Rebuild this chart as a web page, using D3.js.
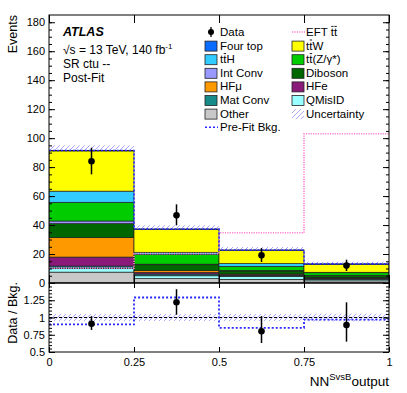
<!DOCTYPE html>
<html><head><meta charset="utf-8">
<script src="https://cdn.jsdelivr.net/npm/d3@7"></script>
<style>
body{margin:0;background:#fff;}
svg{font-family:"Liberation Sans",Arial,Helvetica,sans-serif;}
</style></head>
<body><svg id="c" width="407" height="393"></svg>
<script>
// ---- data ----
const binEdges = [0, 0.25, 0.5, 0.75, 1];
const other   = [7.5, 3.0, 2.5, 1.5];
const qmisid  = [2.4, 2.0, 2.0, 1.0];
const matConv = [1.8, 1.2, 0.8, 0.6];
const hfe     = [6.2, 1.1, 0.5, 0.4];
const hfmu    = [13.4, 1.2, 0.4, 0.2];
const diboson = [9.7, 4.1, 2.1, 1.4];
const intConv = [1.8, 0.4, 0.3, 0.2];
const ttZ     = [12.9, 6.8, 2.9, 1.8];
const ttH     = [7.7, 1.4, 1.9, 0.3];
const ttW     = [27.8, 15.8, 9.1, 5.5];
const fourTop = [0.3, 0.3, 0.3, 0.3];
const dataVals = [84, 46.7, 19.1, 12];
const dataLo   = [75, 39.8, 14.5, 8.3];
const dataHi   = [93.4, 54.3, 24.1, 16.1];
const eftVals  = [10.3, 20.3, 34.7, 103];
const mainUnc  = [3.5, 2.5, 2.0, 1.5];
const ratioVals = [0.91, 1.22, 0.80, 0.89];
const ratioLo   = [0.82, 1.04, 0.63, 0.65];
const ratioHi   = [1.02, 1.41, 1.02, 1.22];
const prefitRatio = [0.90, 1.29, 0.85, 0.97];
const ratioUnc  = [0.05, 0.05, 0.05, 0.055];
const yTicksMain = [0, 20, 40, 60, 80, 100, 120, 140, 160, 180];
const yTicksRatio = [0.5, 0.75, 1, 1.25];
const xTicks = [0, 0.25, 0.5, 0.75, 1];
const xTickLabels = ["0", "0.25", "0.5", "0.75", "1"];

const samples = [
  {name:"Other", vals:other, color:"#c8c8c8"},
  {name:"QMisID", vals:qmisid, color:"#99ffff"},
  {name:"Mat Conv", vals:matConv, color:"#178a8a"},
  {name:"HFe", vals:hfe, color:"#8a1a7a"},
  {name:"HFmu", vals:hfmu, color:"#ff9900"},
  {name:"Diboson", vals:diboson, color:"#006600"},
  {name:"Int Conv", vals:intConv, color:"#9999ff"},
  {name:"ttZ", vals:ttZ, color:"#00cc00"},
  {name:"ttH", vals:ttH, color:"#33ccff"},
  {name:"ttW", vals:ttW, color:"#ffff00"},
  {name:"Four top", vals:fourTop, color:"#0a6cff"}
];

// ---- layout ----
const L = 49, R = 389, mT = 15, mB = 283, rT = 283, rB = 352;
const svg = d3.select("#c");
const x = d3.scaleLinear().domain([0,1]).range([L,R]);
const y = d3.scaleLinear().domain([0,185]).range([mB,mT]);
const yr = d3.scaleLinear().domain([0.5,1.5]).range([rB,rT]);
const nb = dataVals.length;
const bins = d3.range(nb);
const xc = i => x((binEdges[i]+binEdges[i+1])/2);

// hatch pattern
const defs = svg.append("defs");
const pat = defs.append("pattern").attr("id","hatch").attr("patternUnits","userSpaceOnUse")
  .attr("width",5).attr("height",5);
pat.append("path").attr("d","M-1,1 l2,-2 M0,5 l5,-5 M4,6 l2,-2").attr("stroke","#8080ff").attr("stroke-width",0.7);
defs.append("clipPath").attr("id","clipMain").append("rect").attr("x",L).attr("y",mT).attr("width",R-L).attr("height",mB-mT);
defs.append("clipPath").attr("id","clipRatio").append("rect").attr("x",L).attr("y",rT).attr("width",R-L).attr("height",rB-rT);

const main = svg.append("g").attr("clip-path","url(#clipMain)");
const totals = bins.map(i => d3.sum(samples, s => s.vals[i]));

// uncertainty band (behind stack)
main.selectAll("rect.unc").data(bins).join("rect")
  .attr("x", i => x(binEdges[i])).attr("width", i => x(binEdges[i+1]) - x(binEdges[i]))
  .attr("y", i => y(totals[i] + mainUnc[i])).attr("height", i => y(totals[i]-mainUnc[i]) - y(totals[i]+mainUnc[i]))
  .attr("fill","url(#hatch)");

// stack
const stackSeries = d3.stack().keys(d3.range(samples.length))
  .value((i, k) => samples[k].vals[i])(bins);
stackSeries.forEach((ser, k) => {
  main.selectAll(null).data(ser).join("rect")
    .attr("x", (d, i) => x(binEdges[i]))
    .attr("width", (d, i) => x(binEdges[i+1]) - x(binEdges[i]))
    .attr("y", d => y(d[1])).attr("height", d => y(d[0]) - y(d[1]))
    .attr("fill", samples[k].color).attr("stroke","#222").attr("stroke-width",0.7);
});

function stepPath(vals, sc){
  let p = "";
  vals.forEach((v,i) => {
    p += (i===0 ? "M" : "L") + x(binEdges[i]) + "," + sc(v) + "L" + x(binEdges[i+1]) + "," + sc(v);
  });
  return p;
}
// EFT line
main.append("path").attr("d", stepPath(eftVals, y)).attr("fill","none")
  .attr("stroke","#ff80d0").attr("stroke-width",1.6).attr("stroke-dasharray","1.2,1.2");
// prefit (main)
main.append("path").attr("d", stepPath(totals, y)).attr("fill","none")
  .attr("stroke","#2828ff").attr("stroke-width",1.6).attr("stroke-dasharray","2,2");

// data
const dg = svg.append("g");
dg.selectAll("line").data(bins).join("line")
  .attr("x1", xc).attr("x2", xc).attr("y1", i => y(dataLo[i])).attr("y2", i => y(dataHi[i]))
  .attr("stroke","#000").attr("stroke-width",1.5);
dg.selectAll("circle").data(bins).join("circle")
  .attr("cx", xc).attr("cy", i => y(dataVals[i])).attr("r",3.3).attr("fill","#000");

// ratio panel
const rg = svg.append("g").attr("clip-path","url(#clipRatio)");
rg.selectAll("rect").data(bins).join("rect")
  .attr("x", i => x(binEdges[i])).attr("width", i => x(binEdges[i+1]) - x(binEdges[i]))
  .attr("y", i => yr(1 + ratioUnc[i])).attr("height", i => yr(1 - ratioUnc[i]) - yr(1 + ratioUnc[i]))
  .attr("fill","url(#hatch)");
rg.append("line").attr("x1",L).attr("x2",R).attr("y1",yr(1)).attr("y2",yr(1))
  .attr("stroke","#000").attr("stroke-width",1).attr("stroke-dasharray","3,2");
rg.append("path").attr("d", stepPath(prefitRatio, yr)).attr("fill","none")
  .attr("stroke","#2828ff").attr("stroke-width",1.8).attr("stroke-dasharray","2,2");
rg.selectAll("line.e").data(bins).join("line")
  .attr("x1", xc).attr("x2", xc).attr("y1", i => yr(ratioLo[i])).attr("y2", i => yr(ratioHi[i]))
  .attr("stroke","#000").attr("stroke-width",1.5);
rg.selectAll("circle").data(bins).join("circle")
  .attr("cx", xc).attr("cy", i => yr(ratioVals[i])).attr("r",3.3).attr("fill","#000");

// ---- axes ----
function clean(g){ g.select(".domain").remove(); g.selectAll("text").attr("font-family",null); }
const tickFont = 11;
svg.append("g").attr("transform",`translate(${L},0)`)
  .call(d3.axisLeft(y).tickValues(yTicksMain).tickSizeInner(-6).tickSizeOuter(0).tickPadding(4))
  .call(clean).call(g => g.selectAll("text").attr("font-size",tickFont).attr("fill","#000"));
svg.append("g").attr("transform",`translate(${L},0)`)
  .call(d3.axisLeft(y).tickValues(d3.range(0,185,5)).tickSizeInner(-3).tickSizeOuter(0).tickFormat(""))
  .call(clean);
svg.append("g").attr("transform",`translate(${R},0)`)
  .call(d3.axisRight(y).tickValues(yTicksMain).tickSizeInner(-6).tickSizeOuter(0).tickFormat(""))
  .call(clean);
svg.append("g").attr("transform",`translate(${R},0)`)
  .call(d3.axisRight(y).tickValues(d3.range(0,185,5)).tickSizeInner(-3).tickSizeOuter(0).tickFormat(""))
  .call(clean);
svg.append("g").attr("transform",`translate(0,${mT})`)
  .call(d3.axisTop(x).tickValues(xTicks).tickSizeInner(-8).tickSizeOuter(0).tickFormat("")).call(clean);
svg.append("g").attr("transform",`translate(0,${mB})`)
  .call(d3.axisBottom(x).tickValues(xTicks).tickSizeInner(-8).tickSizeOuter(0).tickFormat("")).call(clean);
svg.append("g").attr("transform",`translate(${L},0)`)
  .call(d3.axisLeft(yr).tickValues(yTicksRatio).tickSizeInner(-6).tickSizeOuter(0).tickPadding(4)
    .tickFormat(d => d3.format("")(d)))
  .call(clean).call(g => g.selectAll("text").attr("font-size",tickFont).attr("fill","#000"));
svg.append("g").attr("transform",`translate(${L},0)`)
  .call(d3.axisLeft(yr).tickValues(d3.range(0.5,1.5,0.05)).tickSizeInner(-3).tickSizeOuter(0).tickFormat(""))
  .call(clean);
svg.append("g").attr("transform",`translate(${R},0)`)
  .call(d3.axisRight(yr).tickValues(yTicksRatio).tickSizeInner(-6).tickSizeOuter(0).tickFormat(""))
  .call(clean);
svg.append("g").attr("transform",`translate(${R},0)`)
  .call(d3.axisRight(yr).tickValues(d3.range(0.5,1.5,0.05)).tickSizeInner(-3).tickSizeOuter(0).tickFormat(""))
  .call(clean);
svg.append("g").attr("transform",`translate(0,${rB})`)
  .call(d3.axisBottom(x).tickValues(xTicks).tickSizeInner(-5).tickSizeOuter(0).tickPadding(6)
    .tickFormat((d,i) => xTickLabels[i]))
  .call(clean).call(g => g.selectAll("text").attr("font-size",tickFont).attr("fill","#000"));
svg.append("g").attr("transform",`translate(0,${rT})`)
  .call(d3.axisTop(x).tickValues(xTicks).tickSizeInner(-5).tickSizeOuter(0).tickFormat("")).call(clean);
svg.selectAll(".tick line").attr("stroke","#000");

// frames
svg.append("rect").attr("x",L).attr("y",mT).attr("width",R-L).attr("height",mB-mT)
  .attr("fill","none").attr("stroke","#000").attr("stroke-width",1);
svg.append("rect").attr("x",L).attr("y",rT).attr("width",R-L).attr("height",rB-rT)
  .attr("fill","none").attr("stroke","#000").attr("stroke-width",1);

// axis titles
svg.append("text").attr("transform","translate(17,15) rotate(-90)").attr("text-anchor","end")
  .attr("font-size",12.5).text("Events");
svg.append("text").attr("transform","translate(17,282) rotate(-90)").attr("text-anchor","end")
  .attr("font-size",12.5).text("Data / Bkg.");
const xt = svg.append("text").attr("x",R).attr("y",386).attr("text-anchor","end").attr("font-size",13.5);
xt.append("tspan").text("NN");
xt.append("tspan").attr("dy",-6).attr("font-size",9.5).text("SvsB");
xt.append("tspan").attr("dy",6).text("output");

// overline helper: draws a bar above chars [from, to) of a text node
function overline(textSel, from, to, barY){
  const node = textSel.node();
  const a = node.getStartPositionOfChar(from).x;
  const b = node.getEndPositionOfChar(to-1).x;
  svg.append("line").attr("x1",a+0.5).attr("x2",b-0.3).attr("y1",barY).attr("y2",barY)
    .attr("stroke","#000").attr("stroke-width",0.9);
}

// ATLAS labels
svg.append("text").attr("x",63).attr("y",36).attr("font-size",12.5).attr("font-weight","bold")
  .attr("font-style","italic").text("ATLAS");
const t2 = svg.append("text").attr("x",63).attr("y",54).attr("font-size",12);
t2.append("tspan").text("\u221As = 13 TeV, 140 fb");
t2.append("tspan").attr("dy",-5).attr("font-size",8).text("-1");
svg.append("text").attr("x",63).attr("y",68).attr("font-size",12).text("SR ctu --");
svg.append("text").attr("x",63).attr("y",82).attr("font-size",12).text("Post-Fit");

// legend
const legFont = 11.5;
const rowY = i => 36 + 13.6*i;
function legText(xp, row, str, bars){
  const t = svg.append("text").attr("x",xp).attr("y",rowY(row)).attr("font-size",legFont).text(str);
  (bars||[]).forEach(([f,to]) => overline(t, f, to, rowY(row) - 9.6));
}
function legBox(xp, row, color){
  svg.append("rect").attr("x",xp).attr("y",rowY(row)-8.5).attr("width",12).attr("height",10)
    .attr("fill",color).attr("stroke","#222").attr("stroke-width",0.8);
}
const colL = 205, colLT = 220, colR = 292, colRT = 306;
const colorOf = n => samples.find(s => s.name===n).color;
// left column
svg.append("line").attr("x1",colL+6).attr("x2",colL+6).attr("y1",rowY(0)-9).attr("y2",rowY(0)+1)
  .attr("stroke","#000").attr("stroke-width",1.3);
svg.append("circle").attr("cx",colL+6).attr("cy",rowY(0)-4).attr("r",3).attr("fill","#000");
legText(colLT,0,"Data");
legBox(colL,1,colorOf("Four top")); legText(colLT,1,"Four top");
legBox(colL,2,colorOf("ttH")); legText(colLT,2,"ttH",[[1,2]]);
legBox(colL,3,colorOf("Int Conv")); legText(colLT,3,"Int Conv");
legBox(colL,4,colorOf("HFmu")); legText(colLT,4,"HF\u03BC");
legBox(colL,5,colorOf("Mat Conv")); legText(colLT,5,"Mat Conv");
legBox(colL,6,colorOf("Other")); legText(colLT,6,"Other");
svg.append("line").attr("x1",colL).attr("x2",colL+13).attr("y1",rowY(7)-4).attr("y2",rowY(7)-4)
  .attr("stroke","#2828ff").attr("stroke-width",1.6).attr("stroke-dasharray","2,2");
legText(colLT,7,"Pre-Fit Bkg.");
// right column
svg.append("line").attr("x1",colR).attr("x2",colR+13).attr("y1",rowY(0)-4).attr("y2",rowY(0)-4)
  .attr("stroke","#ff80d0").attr("stroke-width",1.6).attr("stroke-dasharray","1.2,1.2");
legText(colRT,0,"EFT tt",[[4,5],[5,6]]);
legBox(colR,1,colorOf("ttW")); legText(colRT,1,"ttW",[[1,2]]);
legBox(colR,2,colorOf("ttZ")); legText(colRT,2,"tt(Z/\u03B3*)",[[1,2]]);
legBox(colR,3,colorOf("Diboson")); legText(colRT,3,"Diboson");
legBox(colR,4,colorOf("HFe")); legText(colRT,4,"HFe");
legBox(colR,5,colorOf("QMisID")); legText(colRT,5,"QMisID");
svg.append("rect").attr("x",colR).attr("y",rowY(6)-8.5).attr("width",12).attr("height",10).attr("fill","url(#hatch)");
legText(colRT,6,"Uncertainty");
</script></body></html>
